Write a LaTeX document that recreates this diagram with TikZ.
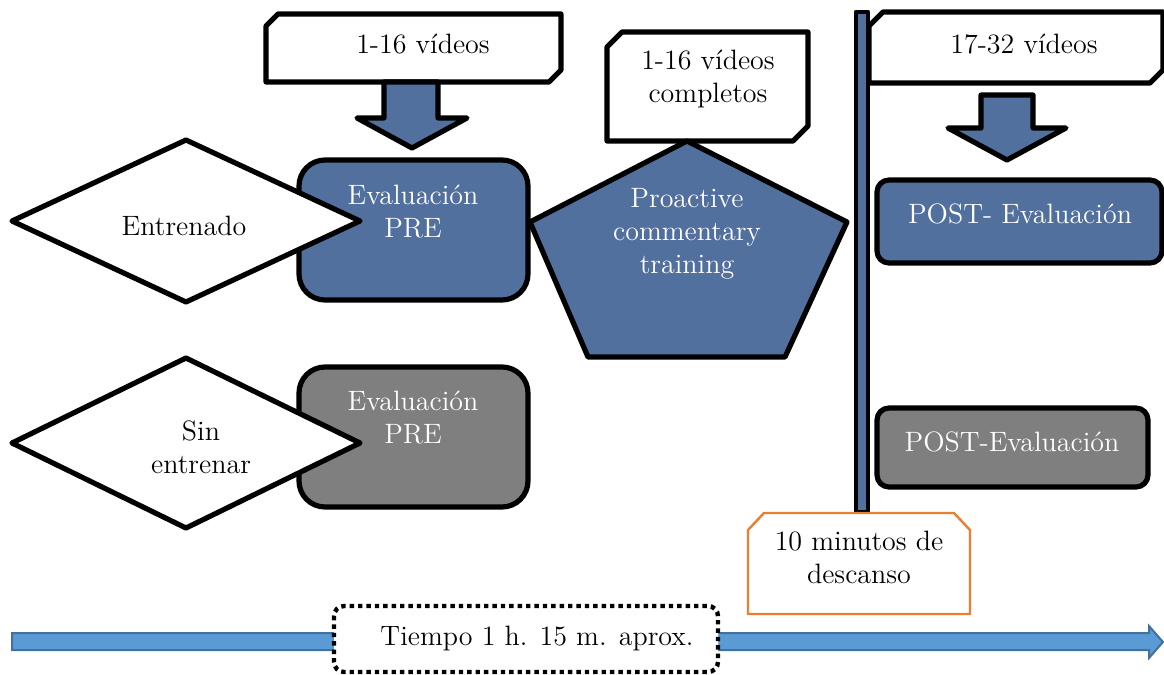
\documentclass[tikz,border=0pt]{standalone}
\usetikzlibrary{shapes.geometric}
\definecolor{denim}{RGB}{82,112,158}
\definecolor{grayfill}{RGB}{127,127,127}
\definecolor{arrowblue}{RGB}{91,155,213}
\definecolor{arrowedge}{RGB}{65,113,156}
\definecolor{orangeline}{RGB}{237,125,49}
\tikzset{
  thick border/.style={draw=black, line width=2.6pt, line join=round},
  bluefill/.style={thick border, fill=denim},
  grayshape/.style={thick border, fill=grayfill},
  whiteshape/.style={thick border, fill=white},
  txt/.style={font=\fontsize{14}{16.5}\selectfont, align=center, inner sep=0pt},
  wtxt/.style={txt, text=white},
}
\begin{document}
\begin{tikzpicture}[x=0.5pt,y=-0.5pt]
\useasboundingbox (0,0) rectangle (1164,675);

% bottom timeline arrow
\draw[fill=arrowblue, draw=arrowedge, line width=1pt]
  (12,633) -- (1149,633) -- (1149,626) -- (1163,642) -- (1149,658) -- (1149,650) -- (12,650) -- cycle;
\draw[fill=white, draw=black, line width=2.2pt, dash pattern=on 2.2pt off 2pt, rounded corners=5pt]
  (334,606) rectangle (718,672);
\node[txt] (tiempo) at (537,638) {Tiempo 1 h. 15 m. aprox.};

% vertical bar
\draw[bluefill, line width=2.4pt] (856,12) rectangle (868,512);

% orange box
\draw[fill=white, draw=orangeline, line width=1.2pt]
  (748,530) -- (764,513) -- (954,513) -- (970,530) -- (970,614) -- (748,614) -- cycle;
\node[txt] (descanso) at (859,557) {10 minutos de\\descanso};

% callout 1
\draw[whiteshape] (266,26) -- (278,14) -- (561,14) -- (561,70) -- (549,82) -- (266,82) -- cycle;
\node[txt] (c1) at (423,44) {1-16 vídeos};
\draw[bluefill] (384,82) -- (438,82) -- (438,118) -- (467,118) -- (412,148) -- (357,118) -- (384,118) -- cycle;

% callout 3
\draw[whiteshape] (869,26) -- (883,12) -- (1163,12) -- (1163,70) -- (1150,83) -- (869,83) -- cycle;
\node[txt] (c3) at (1024,44) {17-32 vídeos};
\draw[bluefill] (981,95) -- (1033,95) -- (1033,128) -- (1066,128) -- (1007,160) -- (948,128) -- (981,128) -- cycle;

% callout 2
\draw[whiteshape] (607,47) -- (622,32) -- (808,32) -- (808,126) -- (793,141) -- (607,141) -- cycle;
\node[txt] (c2) at (708,79) {1-16 vídeos\\completos};

% PRE boxes
\draw[bluefill, rounded corners=13pt] (299,160) rectangle (528,300);
\node[wtxt] (pre1) at (413,212) {Evaluación\\PRE};
\draw[grayshape, rounded corners=13pt] (299,367) rectangle (528,507);
\node[wtxt] (pre2) at (413,418) {Evaluación\\PRE};

% diamonds
\draw[whiteshape] (12,221) -- (186,140) -- (360,221) -- (186,302) -- cycle;
\node[txt] (entrenado) at (184,226) {Entrenado};
\draw[whiteshape] (12,443) -- (186,358) -- (360,443) -- (186,528) -- cycle;
\node[txt] (sinent) at (201,447) {Sin\\entrenar};

% pentagon
\draw[bluefill] (687,141) -- (847,222) -- (785,357) -- (588,357) -- (530,222) -- cycle;
\node[wtxt] (pro) at (687,234) {Proactive\\commentary\\training};

% POST boxes
\draw[bluefill, rounded corners=6pt] (877,180) rectangle (1162,263);
\node[wtxt] (post1) at (1020,214) {POST- Evaluación};
\draw[grayshape, rounded corners=6pt] (877,408) rectangle (1148,487);
\node[wtxt] (post2) at (1012,442) {POST-Evaluación};
\end{tikzpicture}
\end{document}
